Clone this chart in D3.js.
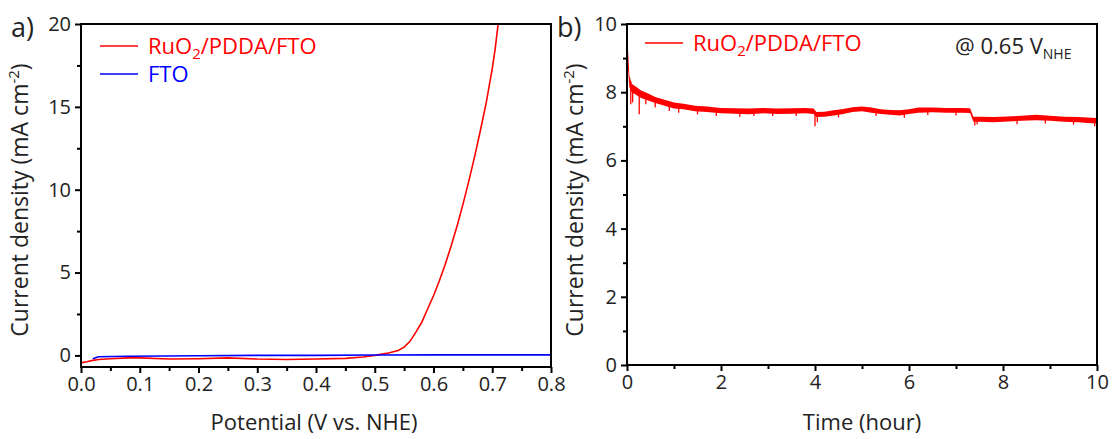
<!DOCTYPE html>
<html>
<head>
<meta charset="utf-8">
<script src="https://cdn.jsdelivr.net/npm/d3@7"></script>
<style>
  body { margin: 0; background: #fff; }
  svg { display: block; font-family: "Open Sans", "Noto Sans", sans-serif; }
</style>
</head>
<body>
<div id="chart"></div>
<script>
// ---- Panel a: LSV curves ----
const potentialRed = [0.0, 0.01, 0.02, 0.03, 0.05, 0.08, 0.1, 0.15, 0.2, 0.25, 0.3, 0.35, 0.4, 0.45, 0.48, 0.5, 0.52, 0.54, 0.55, 0.56, 0.57, 0.58, 0.59, 0.6, 0.61, 0.62, 0.63, 0.64, 0.65, 0.66, 0.67, 0.68, 0.69, 0.70, 0.705, 0.71];
const currentRed   = [-0.45, -0.38, -0.3, -0.25, -0.2, -0.15, -0.15, -0.22, -0.2, -0.15, -0.22, -0.25, -0.22, -0.18, -0.1, 0.0, 0.12, 0.3, 0.5, 0.85, 1.4, 2.0, 2.8, 3.6, 4.5, 5.5, 6.6, 7.8, 9.1, 10.5, 12.0, 13.6, 15.3, 17.3, 18.5, 20.0];
const potentialBlue = [0.02, 0.03, 0.08, 0.2, 0.3, 0.4, 0.5, 0.6, 0.7, 0.8];
const currentBlue   = [-0.2, -0.08, -0.05, -0.02, 0.0, 0.0, 0.02, 0.03, 0.03, 0.03];
const xTicksA = [0, 0.1, 0.2, 0.3, 0.4, 0.5, 0.6, 0.7, 0.8];
const yTicksA = [0, 5, 10, 15, 20];

// ---- Panel b: chronoamperometry at 0.65 V ----
const timeBand = [0, 0.02, 0.05, 0.1, 0.2, 0.3, 0.45, 0.6, 0.8, 1.0, 1.2, 1.45, 1.7, 2.0, 2.3, 2.6, 2.9, 3.2, 3.5, 3.8, 3.97, 4.03, 4.2, 4.4, 4.6, 4.8, 5.0, 5.2, 5.4, 5.6, 5.8, 6.0, 6.2, 6.5, 6.8, 7.1, 7.3, 7.37, 7.5, 7.8, 8.1, 8.4, 8.7, 9.0, 9.3, 9.6, 9.8, 10.0];
const bandLow  = [9.6, 8.7, 8.15, 8.0, 7.92, 7.83, 7.76, 7.68, 7.6, 7.52, 7.5, 7.44, 7.42, 7.38, 7.37, 7.35, 7.38, 7.36, 7.37, 7.38, 7.36, 7.27, 7.28, 7.32, 7.36, 7.42, 7.44, 7.4, 7.36, 7.34, 7.32, 7.36, 7.4, 7.41, 7.4, 7.4, 7.39, 7.13, 7.13, 7.12, 7.14, 7.16, 7.18, 7.16, 7.13, 7.12, 7.1, 7.08];
const bandHigh = [10.0, 9.3, 8.5, 8.25, 8.15, 8.05, 7.96, 7.86, 7.78, 7.7, 7.66, 7.6, 7.58, 7.54, 7.53, 7.52, 7.54, 7.52, 7.53, 7.54, 7.52, 7.42, 7.43, 7.47, 7.51, 7.56, 7.58, 7.55, 7.5, 7.48, 7.47, 7.5, 7.55, 7.55, 7.54, 7.54, 7.53, 7.28, 7.28, 7.27, 7.29, 7.31, 7.34, 7.31, 7.28, 7.27, 7.26, 7.24];
// single noise spikes sticking out of the band
const spikeTime  = [0.08, 0.12, 0.26, 0.4, 0.6, 0.9, 1.1, 1.5, 1.9, 2.4, 2.7, 3.1, 3.6, 4.0, 4.05, 4.5, 5.3, 5.9, 6.4, 7.0, 7.4, 7.45, 8.3, 8.9, 9.5, 9.95];
const spikeValue = [7.65, 7.7, 7.35, 7.65, 7.55, 7.45, 7.4, 7.35, 7.3, 7.28, 7.3, 7.3, 7.3, 7.0, 7.12, 7.26, 7.3, 7.25, 7.33, 7.32, 7.02, 7.06, 7.06, 7.08, 7.05, 7.0];
const xTicksB = [0, 2, 4, 6, 8, 10];
const yTicksB = [0, 2, 4, 6, 8, 10];

const RED = '#ff0000';
const BLUE = '#0000ff';
const INK = '#222';
const W = 1112, H = 439;

const svg = d3.select('#chart').append('svg')
  .attr('width', W).attr('height', H);

// draw a framed panel with outward major/minor ticks
function drawFrame(x, y, xTicks, yTicks, xMinor, yMinor, xFmt, yFmt) {
  const [x0, x1] = x.range();
  const [y0, y1] = y.range();
  const g = svg.append('g');

  g.append('g')
    .attr('transform', `translate(0,${y0})`)
    .call(d3.axisBottom(x).tickValues(xTicks).tickSize(6).tickPadding(4).tickFormat(xFmt));
  g.append('g')
    .attr('transform', `translate(0,${y0})`)
    .call(d3.axisBottom(x).tickValues(xMinor).tickSize(4).tickFormat(''));
  g.append('g')
    .attr('transform', `translate(${x0},0)`)
    .call(d3.axisLeft(y).tickValues(yTicks).tickSize(6).tickPadding(4).tickFormat(yFmt));
  g.append('g')
    .attr('transform', `translate(${x0},0)`)
    .call(d3.axisLeft(y).tickValues(yMinor).tickSize(4).tickFormat(''));

  g.selectAll('.domain').remove();
  g.selectAll('.tick line').attr('stroke', '#000').attr('stroke-width', 2);
  g.selectAll('.tick text')
    .attr('fill', INK).attr('font-size', '20px')
    .style('font-family', '"Open Sans", "Noto Sans", sans-serif');

  g.append('rect')
    .attr('x', x0).attr('y', y1)
    .attr('width', x1 - x0).attr('height', y0 - y1)
    .attr('fill', 'none').attr('stroke', '#000').attr('stroke-width', 2);
  return g;
}

function yTitle(cx, cy) {
  const t = svg.append('text')
    .attr('transform', `translate(${cx},${cy}) rotate(-90)`)
    .attr('text-anchor', 'middle')
    .attr('font-size', '23px').attr('fill', INK);
  t.append('tspan').text('Current density (mA cm');
  t.append('tspan').attr('font-size', '15px').attr('dy', '-9').text('-2');
  t.append('tspan').attr('dy', '9').text(')');
}

function subLabel(sel, main, sub, rest, subSize, shift) {
  sel.append('tspan').text(main);
  sel.append('tspan').attr('font-size', subSize).attr('dy', shift).text(sub);
  if (rest) sel.append('tspan').attr('dy', -shift).text(rest);
}

// ================= panel a =================
const xA = d3.scaleLinear().domain([0, 0.8]).range([81, 551]);
const yA = d3.scaleLinear().domain([-0.7, 20]).range([367, 24]);

svg.append('clipPath').attr('id', 'clipA')
  .append('rect').attr('x', 81).attr('y', 24).attr('width', 470).attr('height', 343);

const lineA = d3.line().x(d => xA(d[0])).y(d => yA(d[1]));
const plotA = svg.append('g').attr('clip-path', 'url(#clipA)');
plotA.append('path')
  .datum(d3.zip(potentialRed, currentRed))
  .attr('d', lineA).attr('fill', 'none').attr('stroke', RED).attr('stroke-width', 1.6);
plotA.append('path')
  .datum(d3.zip(potentialBlue, currentBlue))
  .attr('d', lineA).attr('fill', 'none').attr('stroke', BLUE).attr('stroke-width', 1.6);

drawFrame(xA, yA, xTicksA, yTicksA,
  d3.range(0.05, 0.8, 0.1), [2.5, 7.5, 12.5, 17.5],
  d3.format('.1f'), d3.format('d'));

svg.append('text').attr('x', 11).attr('y', 37)
  .attr('font-size', '27px').attr('fill', INK).text('a)');
yTitle(28, 200);
svg.append('text').attr('x', 314).attr('y', 430)
  .attr('text-anchor', 'middle').attr('font-size', '22px').attr('fill', INK)
  .text('Potential (V vs. NHE)');

// legend a
svg.append('line').attr('x1', 100).attr('x2', 138).attr('y1', 46).attr('y2', 46)
  .attr('stroke', RED).attr('stroke-width', 1.6);
subLabel(svg.append('text').attr('x', 148).attr('y', 54)
  .attr('font-size', '22px').attr('fill', RED), 'RuO', '2', '/PDDA/FTO', '15px', 5);
svg.append('line').attr('x1', 100).attr('x2', 138).attr('y1', 74).attr('y2', 74)
  .attr('stroke', BLUE).attr('stroke-width', 1.6);
svg.append('text').attr('x', 148).attr('y', 82)
  .attr('font-size', '22px').attr('fill', BLUE).text('FTO');

// ================= panel b =================
const xB = d3.scaleLinear().domain([0, 10]).range([627, 1097]);
const yB = d3.scaleLinear().domain([0, 10]).range([365, 24]);

const bandData = timeBand.map((t, i) => ({ t, lo: bandLow[i], hi: bandHigh[i] }));
svg.append('path')
  .datum(bandData)
  .attr('d', d3.area().x(d => xB(d.t)).y0(d => yB(d.lo)).y1(d => yB(d.hi)))
  .attr('fill', RED);

// noise spikes hanging from the band
const spikeG = svg.append('g');
spikeTime.forEach((t, i) => {
  const j = Math.max(d3.bisectLeft(timeBand, t) - 1, 0);
  const mid = (bandData[j].lo + bandData[j].hi) / 2;
  spikeG.append('line')
    .attr('x1', xB(t)).attr('x2', xB(t))
    .attr('y1', yB(mid)).attr('y2', yB(spikeValue[i]))
    .attr('stroke', RED).attr('stroke-width', 1.3);
});

drawFrame(xB, yB, xTicksB, yTicksB,
  [1, 3, 5, 7, 9], [1, 3, 5, 7, 9],
  d3.format('d'), d3.format('d'));

svg.append('text').attr('x', 557).attr('y', 37)
  .attr('font-size', '27px').attr('fill', INK).text('b)');
yTitle(583, 200);
svg.append('text').attr('x', 862).attr('y', 430)
  .attr('text-anchor', 'middle').attr('font-size', '22px').attr('fill', INK)
  .text('Time (hour)');

// legend b
svg.append('line').attr('x1', 645).attr('x2', 683).attr('y1', 43).attr('y2', 43)
  .attr('stroke', RED).attr('stroke-width', 1.6);
subLabel(svg.append('text').attr('x', 693).attr('y', 51)
  .attr('font-size', '22px').attr('fill', RED), 'RuO', '2', '/PDDA/FTO', '15px', 5);

subLabel(svg.append('text').attr('x', 955).attr('y', 54)
  .attr('font-size', '22px').attr('fill', INK), '@ 0.65 V', 'NHE', null, '14px', 5);
</script>
</body>
</html>
